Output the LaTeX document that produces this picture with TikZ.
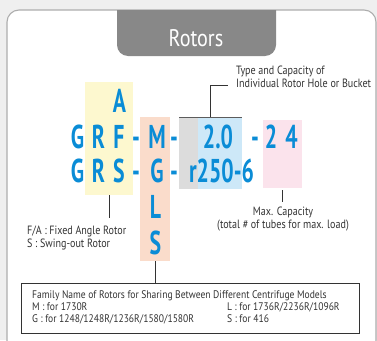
\documentclass[tikz,border=0pt]{standalone}
\usepackage{fontspec}
\setmainfont{PT Sans}[FakeStretch=0.84]
\newfontfamily\codefont{PT Sans}[FakeStretch=0.66]
\newfontfamily\boxfont{PT Sans}[FakeStretch=0.87]
\usepackage{xcolor}
\usetikzlibrary{calc}

\definecolor{pagegray}{HTML}{EFEFEF}
\definecolor{framegray}{HTML}{ADADAD}
\definecolor{tabgray}{HTML}{888888}
\definecolor{codeblue}{HTML}{0A8CD6}
\definecolor{inkgray}{HTML}{333333}
\definecolor{fillyellow}{HTML}{FDF8CF}
\definecolor{fillorange}{HTML}{FADCCB}
\definecolor{fillgray}{HTML}{DCDCDC}
\definecolor{fillblue}{HTML}{CDE8F8}
\definecolor{fillpink}{HTML}{FBE3EC}

\begin{document}
\begin{tikzpicture}[x=1pt, y=-1pt,
  code/.style={text=codeblue, font=\codefont\bfseries\fontsize{33}{33}\selectfont,
    anchor=base, inner sep=0pt},
  band/.style={inner sep=0pt, minimum width=#1, anchor=north west},
  note/.style={text=inkgray, font=\fontsize{12}{13}\selectfont, inner sep=0pt},
  small/.style={text=inkgray, font=\boxfont\fontsize{11}{12}\selectfont,
    inner sep=0pt, anchor=base west},
  leader/.style={draw=inkgray, line width=0.9pt}]

  % page and panel
  \fill[pagegray] (0,0) rectangle (377,340);
  \useasboundingbox (0,0) rectangle (377,340);
  \clip (0,0) rectangle (377,340);
  \draw[fill=white, draw=framegray, line width=1.1pt, rounded corners=12pt]
    (7,10) rectangle (376,360);
  \fill[tabgray] (117,10) {[rounded corners=11pt] -- (117,56) -- (276,56)}
    -- (276,10) -- cycle;
  \node[text=white, font=\fontsize{24}{24}\selectfont, anchor=base,
    inner sep=0pt] (title) at (196,46) {Rotors};

  % coloured bands
  \node[band=48pt, minimum height=113pt, fill=fillyellow] (yellowbox) at (85,82) {};
  \node[band=30pt, minimum height=144pt, fill=fillorange] (orangebox) at (140,117) {};
  \node[band=19pt, minimum height=72pt, fill=fillgray] (graybox) at (179,117) {};
  \node[band=44pt, minimum height=72pt, fill=fillblue] (bluebox) at (198,117) {};
  \node[band=39pt, minimum height=68pt, fill=fillpink] (pinkbox) at (263,120) {};
  \draw[draw=inkgray!80, line width=1pt] (graybox.north west) -- (bluebox.north east);

  % code letters
  \node[code] (a1) at (119.5,112) {A};
  \node[code] (g1) at (77.5,148) {G};
  \node[code] (r1) at (98.5,148) {R};
  \node[code] (f1) at (119,148) {F};
  \node[code] (d1) at (136,148) {-};
  \node[code] (m1) at (157,148) {M};
  \node[code] (e1) at (174,148) {-};
  \node[code] (cap) at (218,148) {2.0};
  \node[code] (h1) at (255,148) {-};
  \node[code] (two) at (271,148) {2};
  \node[code] (four) at (291.5,148) {4};
  \node[code] (g2) at (77.5,182) {G};
  \node[code] (r2) at (98.5,182) {R};
  \node[code] (s2) at (119,182) {S};
  \node[code] (d2) at (136,182) {-};
  \node[code] (gm) at (157,182) {G};
  \node[code] (e2) at (174,182) {-};
  \node[code] (bucket) at (221.5,182) {r250-6};
  \node[code] (lm) at (155.5,218) {L};
  \node[code] (sm) at (155.5,254) {S};

  % notes
  \node[note, anchor=north west, align=left] (typenote) at (236,66)
    {Type and Capacity of\\Individual Rotor Hole or Bucket};
  \node[note, anchor=north west, align=left] (kindnote) at (27,226)
    {F/A : Fixed Angle Rotor\\S : Swing-out Rotor};
  \node[note, anchor=north, align=center] (maxnote) at (283,207)
    {Max. Capacity\\(total \# of tubes for max. load)};

  % family box
  \node[draw=inkgray, line width=0.9pt, minimum width=338pt, minimum height=50pt,
    inner sep=0pt, anchor=north west] (famBox) at (21,283) {};
  \node[small] (famhead) at (32,298.5)
    {Family Name of Rotors for Sharing Between Different Centrifuge Models};
  \node[small] (famM) at (32,310) {M : for 1730R};
  \node[small] (famG) at (32,322) {G : for 1248/1248R/1236R/1580/1580R};
  \node[small] (famL) at (227,310) {L : for 1736R/2236R/1096R};
  \node[small] (famS) at (227,322) {S : for 416};

  % leaders
  \coordinate (topmid) at ($(graybox.north west)!0.5!(bluebox.north east)$);
  \draw[leader] (topmid) -- ++(0,-32) -- ++(17,0);
  \draw[leader] (yellowbox.south) -- ++(0,23);
  \draw[leader] ($(pinkbox.south)+(0,2)$) -- ++(0,12);
  \draw[leader] (orangebox.south) -- (orangebox.south |- famBox.north);
\end{tikzpicture}
\end{document}
